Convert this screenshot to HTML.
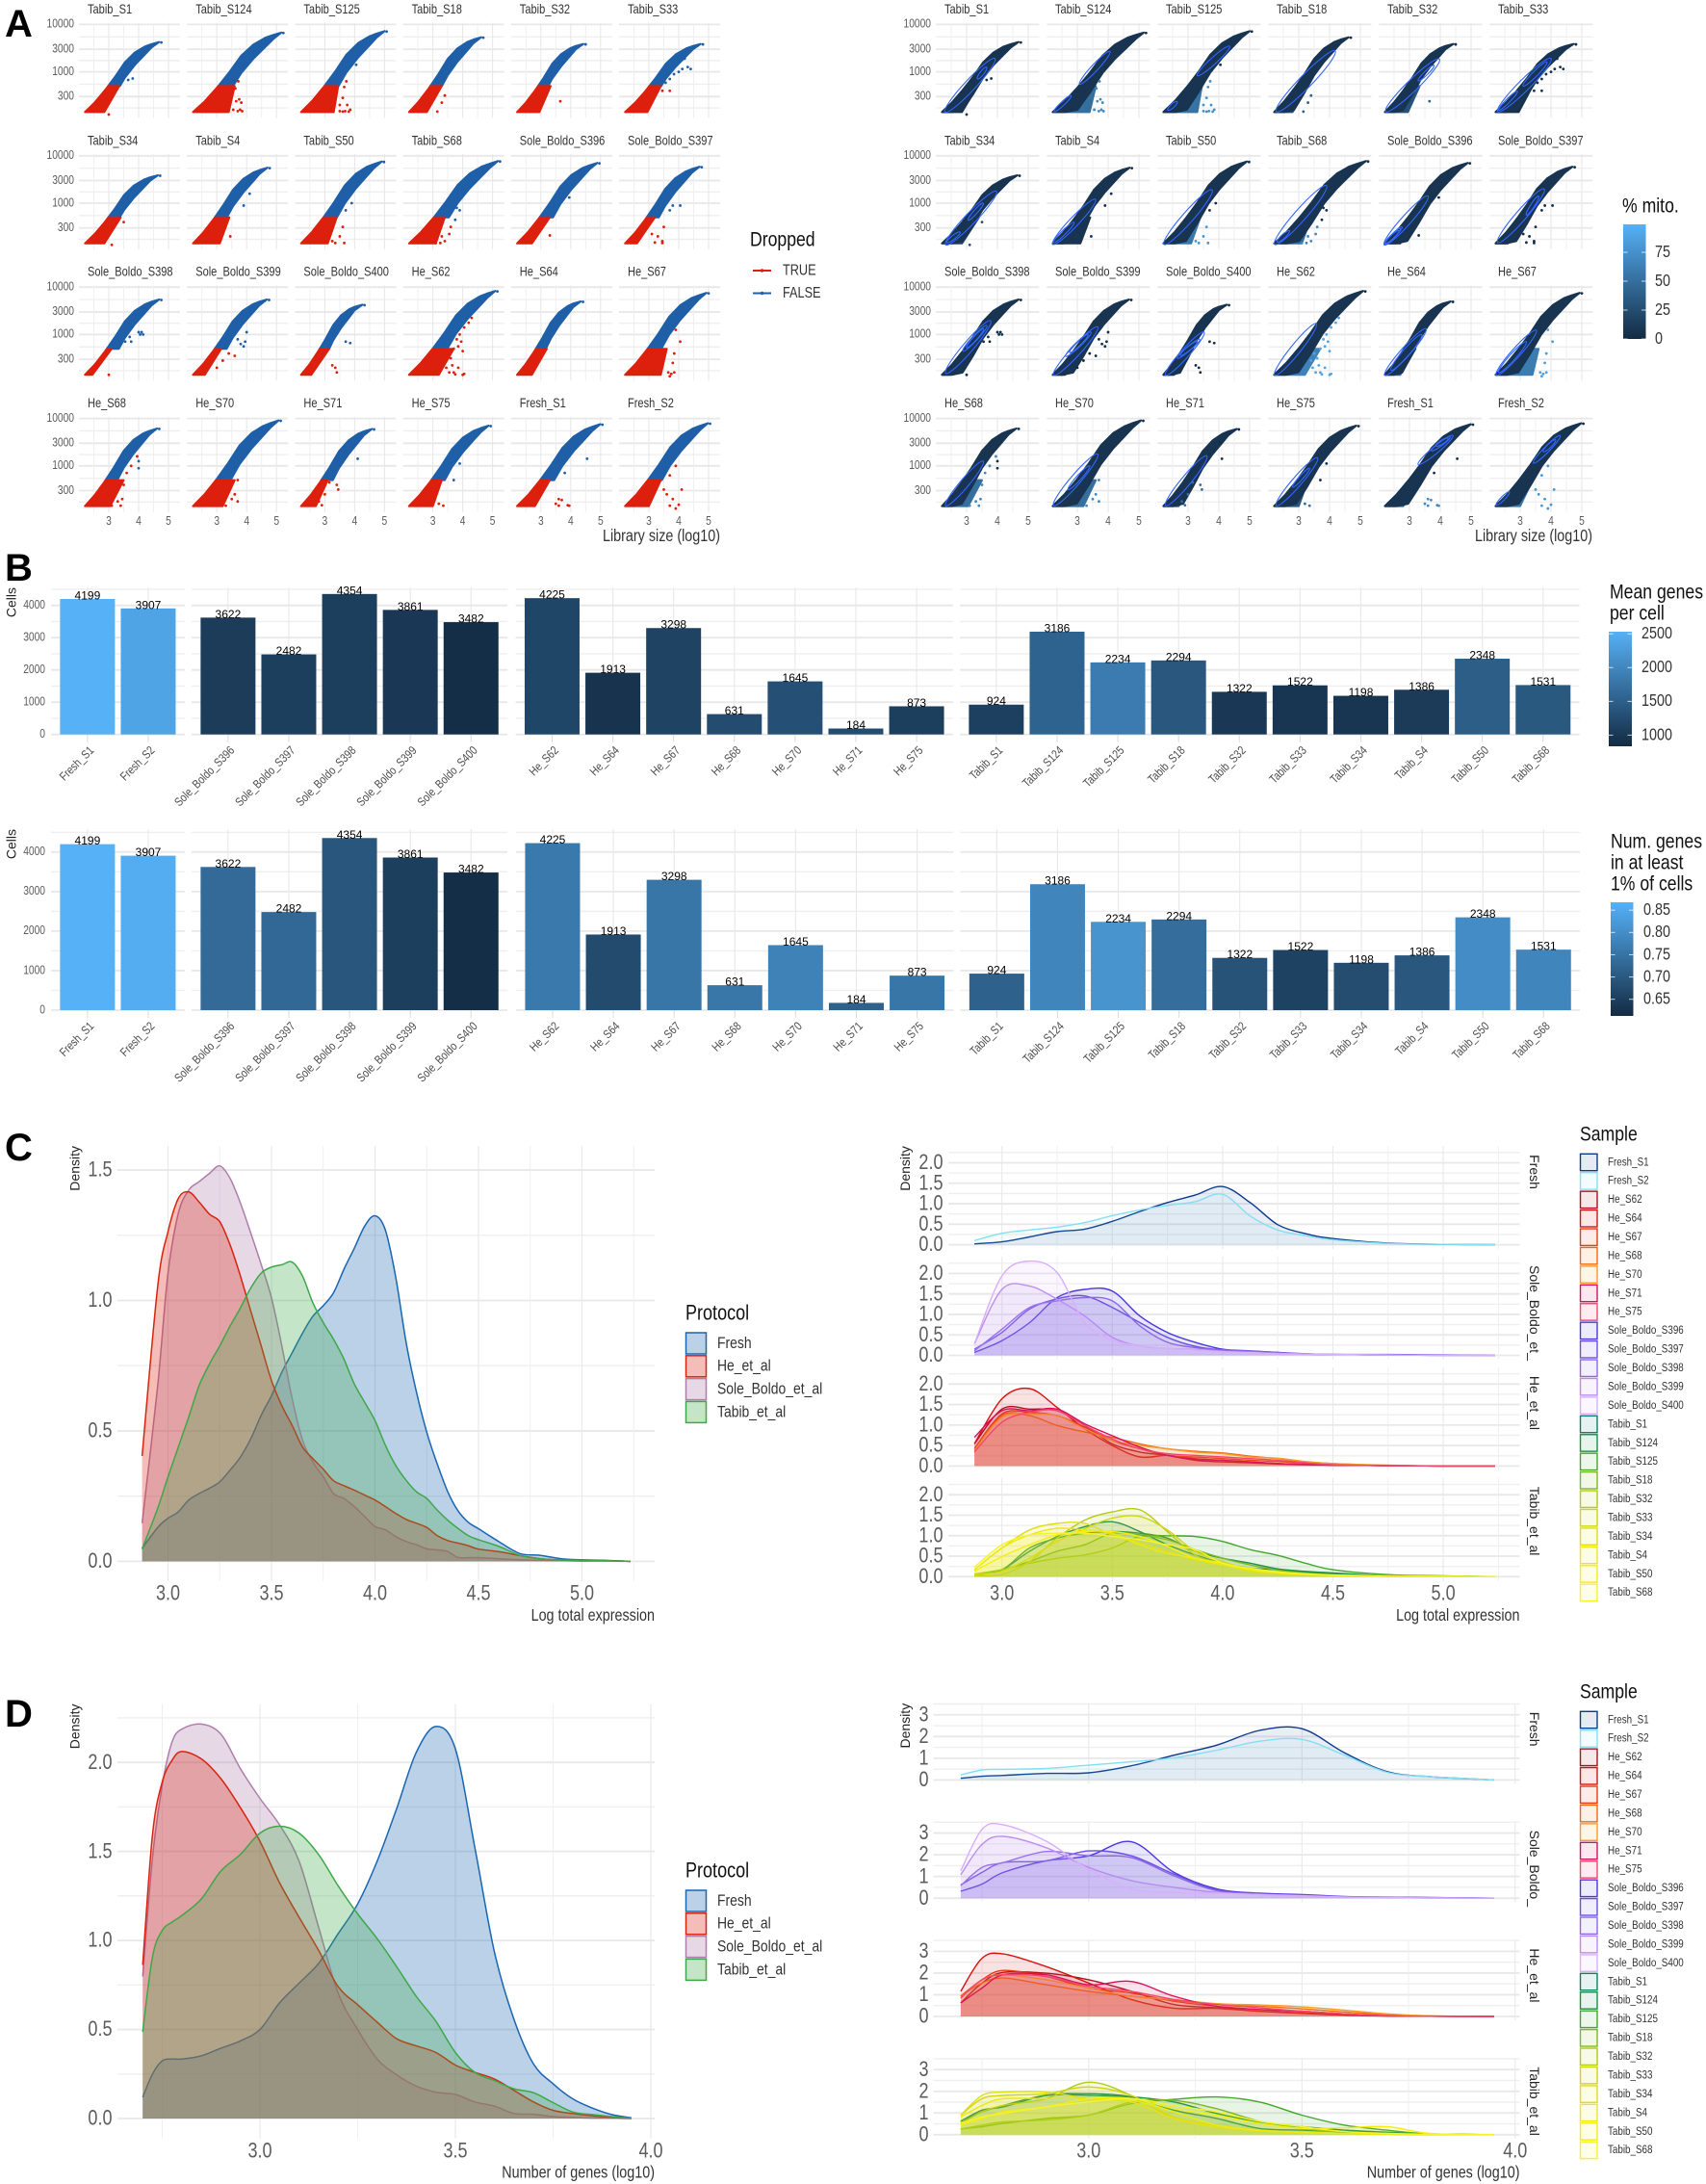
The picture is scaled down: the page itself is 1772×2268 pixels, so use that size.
<!DOCTYPE html>
<html lang="en">
<head>
<meta charset="utf-8">
<title>Single-cell QC figure</title>
<style>
html,body{margin:0;padding:0;background:#fff;}
svg{display:block;}
text{font-family:"Liberation Sans",sans-serif;}
.wide{font-family:"Liberation Sans",sans-serif;}
</style>
</head>
<body>
<svg id="figure" xmlns="http://www.w3.org/2000/svg" width="1772" height="2268" viewBox="0 0 1772 2268"></svg>
<script>
/* ---------- Panel A data (log10 units) ---------- */
const scatterNames = ["Tabib_S1","Tabib_S124","Tabib_S125","Tabib_S18","Tabib_S32","Tabib_S33","Tabib_S34","Tabib_S4","Tabib_S50","Tabib_S68","Sole_Boldo_S396","Sole_Boldo_S397","Sole_Boldo_S398","Sole_Boldo_S399","Sole_Boldo_S400","He_S62","He_S64","He_S67","He_S68","He_S70","He_S71","He_S75","Fresh_S1","Fresh_S2"];
const libraryTop = [4.76,5.23,5.07,4.69,4.5,4.81,4.72,4.77,4.98,5.25,4.96,4.77,4.76,4.75,4.33,5.16,4.41,5.0,4.69,5.14,4.65,4.94,5.06,5.05];
const genesTop = [3.63,3.83,3.86,3.73,3.59,3.59,3.59,3.75,3.88,3.89,3.85,3.77,3.74,3.74,3.63,3.92,3.70,3.88,3.79,3.96,3.78,3.85,3.88,3.90];
const droppedTopLibrary = [3.35,3.6,3.45,3.3,3.33,3.4,3.4,3.42,3.4,3.4,3.3,3.2,3.1,3.15,3.15,3.7,3.2,3.6,3.5,3.6,3.1,3.3,3.3,3.4];
const droppedBottomLibrary = [2.85,3.4,3.3,2.8,2.95,2.95,2.85,3.1,3.1,3.1,2.7,2.6,2.45,2.6,2.55,3.2,2.7,3.4,3.05,3.2,2.7,3.0,2.8,3.0];
const droppedMito = [0.1,0.7,0.75,0.4,0.4,0.05,0.3,0.1,0.8,0.7,0.05,0,0,0,0,0.9,0.6,0.85,0.7,0.7,0.5,0.5,0.7,0.8];
const ridgeSteps = [0,0.15,0.3,0.45,0.6,0.75,0.9,1];
const ridgeUpper = [0,0.14,0.31,0.50,0.71,0.85,0.935,0.97];
const ridgeLower = [0,0,0.03,0.25,0.49,0.67,0.82,0.92];
const droppedOutliers = [
 [[3.0,2.1]],
 [[3.72,2.8],[3.62,2.65],[3.82,2.35],[3.75,2.42],[3.65,2.38],[3.85,2.17],[3.7,2.17],[3.55,2.2],[3.78,2.2]],
 [[3.72,2.8],[3.65,2.68],[3.75,2.3],[3.6,2.45],[3.5,2.3],[3.85,2.2],[3.8,2.16],[3.6,2.16],[3.68,2.17],[3.5,2.17]],
 [[3.4,2.5],[3.3,2.35],[3.15,2.16]],
 [[3.65,2.38]],
 [[3.7,2.6],[3.45,2.6]],
 [[3.5,2.6],[3.1,2.12]],
 [[3.45,2.3]],
 [[3.6,2.5],[3.5,2.3],[3.65,2.16],[3.35,2.16],[3.25,2.2]],
 [[3.6,2.5],[3.55,2.35],[3.4,2.2],[3.3,2.3],[3.25,2.16],[3.1,2.16]],
 [[3.3,2.32]],
 [[3.5,2.5],[3.3,2.3],[3.45,2.2],[3.2,2.17],[3.1,2.35],[3.45,2.16]],
 [[3.0,2.15]],
 [[3.6,2.55],[3.4,2.6],[3.2,2.45],[3.0,2.3]],
 [[3.25,2.35],[3.35,2.3],[3.4,2.2]],
 [[4.3,3.35],[4.2,3.25],[4.05,3.15],[3.9,3.0],[3.8,2.9],[4.0,2.65],[3.7,2.7],[3.6,2.5],[3.85,2.3],[3.7,2.2],[3.75,2.16],[4.0,2.15],[4.05,2.17],[3.45,2.3],[3.55,2.2],[3.4,2.45],[3.65,2.35],[3.5,2.6],[3.85,2.75],[3.95,2.85]],
 [],
 [[3.9,3.1],[4.05,2.85],[3.85,2.6],[3.8,2.4],[3.85,2.2],[3.75,2.17],[3.65,2.2],[3.7,2.12]],
 [[3.95,3.2],[3.75,3.0],[3.6,2.85],[3.5,2.6],[3.45,2.3],[3.3,2.25],[3.1,2.16],[3.4,2.16]],
 [[3.7,2.7],[3.6,2.4],[3.7,2.25],[3.5,2.3],[3.3,2.16]],
 [[3.15,2.65],[3.4,2.6],[3.45,2.5],[3.0,2.4],[2.9,2.17],[2.8,2.25]],
 [[3.2,2.2],[3.35,2.16]],
 [[3.7,2.28],[3.5,2.2],[3.6,2.16],[3.95,2.16],[3.9,2.17],[3.6,2.3]],
 [[4.1,2.5],[4.0,2.18],[3.9,2.1],[3.8,2.3],[3.6,2.4],[3.7,2.16],[3.5,2.5],[3.9,3.0],[3.7,2.8]]
];
const keptOutliers = [
 [[3.8,2.86],[3.65,2.83]],
 [[3.9,3.1]],
 [[4.05,3.15]],
 [],
 [],
 [[4.12,3.06],[4.4,3.06],[3.84,2.95],[3.56,2.77],[4.2,3.28],[4.3,3.1],[4.0,3.0],[3.7,2.85]],
 [],
 [[4.1,3.2],[3.9,2.95]],
 [[3.9,3.0],[3.7,2.85]],
 [[3.9,2.85],[3.75,2.65],[3.8,2.9]],
 [[3.95,3.12]],
 [[4.05,2.95],[3.8,2.95],[3.7,2.85]],
 [[4.0,3.05],[4.1,3.05],[4.05,3.0],[4.15,3.0],[3.7,2.95],[3.75,2.85],[3.55,2.85]],
 [[3.95,2.85],[3.9,2.75],[3.7,2.9],[4.0,3.05],[3.8,2.8]],
 [[3.7,2.85],[3.85,2.82]],
 [],
 [],
 [],
 [[4.0,2.95],[4.0,3.1]],
 [],
 [[4.1,3.15],[3.85,3.3],[4.05,3.5],[3.7,3.25]],
 [[3.7,2.7],[3.9,3.05]],
 [[4.55,3.15],[3.8,2.85]],
 []
];
/* density contours: [library start, genes start, library end, genes end] */
const contourEnds = [
 [[2.3,2.15,3.92,3.28],[3.35,2.85,3.65,3.1]],
 [[3.07,2.74,4.06,3.43],[2.25,2.16,2.8,2.5]],
 [[3.3,2.92,4.35,3.54],[2.34,2.19,2.65,2.37]],
 [[2.27,2.16,4.18,3.44]],
 [[2.23,2.16,3.97,3.27],[3.28,2.81,3.8,3.14]],
 [[2.27,2.16,4.0,3.28],[2.3,2.19,2.91,2.59],[3.09,2.7,3.87,3.21]],
 [[2.32,2.12,3.97,3.25],[3.05,2.64,3.54,3.0],[2.36,2.17,2.79,2.39]],
 [[2.2,2.13,3.59,3.08],[2.23,2.17,2.9,2.6]],
 [[2.22,2.13,3.78,3.28]],
 [[2.22,2.13,3.9,3.37],[2.3,2.18,2.7,2.42]],
 [[2.18,2.12,3.6,3.15],[2.18,2.12,2.76,2.5],[2.2,2.14,2.7,2.46],[2.22,2.16,2.66,2.42]],
 [[2.27,2.17,3.78,3.3],[3.2,2.75,3.6,3.15]],
 [[2.32,2.18,3.78,3.29],[2.88,2.65,3.66,3.19],[3.0,2.72,3.55,3.12]],
 [[2.23,2.14,3.66,3.16],[2.62,2.54,3.45,3.05],[2.75,2.62,3.35,3.0]],
 [[2.27,2.14,3.52,3.05],[2.65,2.5,3.38,2.9],[2.75,2.56,3.3,2.85]],
 [[2.22,2.14,3.57,3.23]],
 [[2.2,2.14,3.54,3.12],[2.4,2.25,3.4,3.0]],
 [[2.22,2.14,3.52,3.09],[2.3,2.2,3.2,2.85]],
 [[2.32,2.16,3.54,3.1]],
 [[2.23,2.16,3.66,3.25],[2.7,2.5,3.4,3.0]],
 [[2.27,2.16,3.61,3.21]],
 [[2.27,2.16,3.61,3.17],[2.8,2.55,3.35,2.95]],
 [[3.28,3.03,4.41,3.64],[3.71,3.32,4.32,3.61],[3.85,3.42,4.25,3.58]],
 [[3.43,3.06,4.3,3.64],[2.22,2.17,2.65,2.45],[3.75,3.3,4.15,3.55]]
];

/* ---------- Panel B data ---------- */
const barFacets = ["Fresh","Sole_Boldo","He","Tabib"];
const barSamples = [["Fresh_S1","Fresh_S2"],["Sole_Boldo_S396","Sole_Boldo_S397","Sole_Boldo_S398","Sole_Boldo_S399","Sole_Boldo_S400"],["He_S62","He_S64","He_S67","He_S68","He_S70","He_S71","He_S75"],["Tabib_S1","Tabib_S124","Tabib_S125","Tabib_S18","Tabib_S32","Tabib_S33","Tabib_S34","Tabib_S4","Tabib_S50","Tabib_S68"]];
const barCells = [[4199,3907],[3622,2482,4354,3861,3482],[4225,1913,3298,631,1645,184,873],[924,3186,2234,2294,1322,1522,1198,1386,2348,1531]];
const barMeanGenes = [[2524,2355],[1055,1088,1088,1004,870],[1173,936,1139,1257,1291,1257,1088],[1105,1544,1848,1392,1004,970,970,1038,1477,1409]];
const barNumGenes = [[0.867,0.859],[0.732,0.729,0.694,0.650,0.617],[0.760,0.673,0.755,0.757,0.778,0.714,0.755],[0.714,0.785,0.811,0.740,0.689,0.655,0.676,0.696,0.796,0.783]];
const cellTicks = [0,1000,2000,3000,4000];
const cellMinorTicks = [500,1500,2500,3500,4500];
const meanGeneTicks = [1000,1500,2000,2500];
const numGeneTicks = [0.65,0.70,0.75,0.80,0.85];
const mitoTicks = [0,25,50,75];

/* ---------- Panel C / D protocol densities ---------- */
const protocols = ["Fresh","He_et_al","Sole_Boldo_et_al","Tabib_et_al"];
const protocolColors = ["#1966b2","#da230f","#af7dac","#3ea848"];
const protocolFills = ["#1966b2","#da230f","#af7dac","#3ea848"];
const protocolDrawOrder = [0,2,1,3];
const exprGrid = [2.875,2.95,3.0,3.05,3.1,3.15,3.2,3.25,3.3,3.35,3.4,3.45,3.5,3.55,3.6,3.65,3.7,3.75,3.8,3.85,3.9,3.95,4.0,4.05,4.1,4.15,4.2,4.25,4.3,4.35,4.4,4.45,4.5,4.6,4.7,4.8,4.9,5.0,5.1,5.235];
const exprFresh = [.05,.13,.165,.19,.235,.26,.28,.305,.35,.40,.47,.56,.635,.725,.80,.875,.94,.98,1.03,1.12,1.20,1.285,1.325,1.27,1.09,.84,.65,.495,.375,.27,.195,.15,.125,.075,.03,.023,.01,.006,.004,0];
const exprHe = [.404,1.054,1.264,1.391,1.416,1.378,1.331,1.302,1.213,1.093,.959,.826,.693,.597,.521,.438,.394,.353,.309,.290,.273,.254,.235,.210,.184,.161,.146,.130,.099,.080,.070,.060,.047,.037,.022,.010,.005,.003,.003,0];
const exprSole = [.146,.673,1.105,1.334,1.423,1.455,1.487,1.516,1.468,1.373,1.258,1.138,1.010,.826,.623,.464,.381,.324,.260,.241,.210,.172,.134,.121,.095,.076,.064,.048,.044,.038,.015,.014,.014,.010,.006,.004,.003,.001,.001,0];
const exprTabib = [.047,.203,.324,.438,.553,.673,.756,.826,.902,.972,1.048,1.105,1.128,1.137,1.147,1.093,.991,.915,.851,.775,.680,.610,.540,.445,.368,.311,.267,.241,.197,.159,.127,.099,.083,.057,.023,.010,.005,.004,.003,0];
const geneGrid = [2.7,2.725,2.75,2.775,2.8,2.85,2.9,2.95,3.0,3.05,3.1,3.15,3.2,3.25,3.3,3.35,3.4,3.45,3.5,3.55,3.6,3.65,3.7,3.75,3.8,3.85,3.9,3.95];
const geneFresh = [.120,.250,.324,.334,.334,.352,.395,.436,.500,.649,.760,.871,1.038,1.205,1.446,1.742,2.057,2.202,2.076,1.520,.934,.556,.306,.195,.111,.059,.022,.004];
const geneHe = [.862,1.594,1.890,2.011,2.061,2.020,1.909,1.746,1.557,1.325,1.131,.945,.741,.639,.541,.448,.408,.371,.300,.259,.222,.158,.093,.046,.028,.015,.007,0];
const geneSole = [.797,1.464,1.872,2.113,2.187,2.215,2.159,1.965,1.798,1.650,1.446,1.075,.704,.500,.334,.245,.182,.148,.135,.093,.070,.028,.024,.011,.006,.002,.002,0];
const geneTabib = [.486,.908,1.056,1.103,1.140,1.233,1.390,1.483,1.603,1.642,1.603,1.483,1.307,1.149,1.010,.852,.686,.547,.371,.259,.213,.167,.145,.089,.037,.022,.011,0];

/* ---------- Panel C / D sample densities ---------- */
const sampleNames = ["Fresh_S1","Fresh_S2","He_S62","He_S64","He_S67","He_S68","He_S70","He_S71","He_S75","Sole_Boldo_S396","Sole_Boldo_S397","Sole_Boldo_S398","Sole_Boldo_S399","Sole_Boldo_S400","Tabib_S1","Tabib_S124","Tabib_S125","Tabib_S18","Tabib_S32","Tabib_S33","Tabib_S34","Tabib_S4","Tabib_S50","Tabib_S68"];
const sampleColors = ["#0b3a8c","#85dff2","#a9121e","#d4140f","#e83a10","#f0670f","#f79a2a","#d80f5c","#f2466e","#4a36dc","#6a4fe2","#8e67e8","#b98bf0","#d9aefa","#0b7f5e","#18904a","#43a52c","#7cb81e","#b3cb10","#cdd610","#dfdf10","#ebe810","#f3ee0e","#f6f32a"];
const facetSampleRange = [[0,2],[9,14],[2,9],[14,24]];
const exprFacetLabels = ["Fresh","Sole_Boldo_et_","He_et_al","Tabib_et_al"];
const geneFacetLabels = ["Fresh","Sole_Boldo_","He_et_al","Tabib_et_al"];
const exprSampleGrid = [2.875,3,3.125,3.25,3.375,3.5,3.625,3.75,3.875,4,4.125,4.25,4.375,4.5,4.75,5,5.235];
const exprSampleValues = [
 [.02,.07,.19,.32,.38,.57,.81,1.03,1.21,1.42,1.03,.49,.27,.15,.04,.01,0],
 [.10,.28,.36,.43,.54,.71,.85,.96,1.05,1.23,.70,.36,.22,.12,.03,.01,0],
 [.54,1.39,1.39,1.35,.99,.54,.34,.26,.14,.10,.08,.05,.04,.02,.01,0,0],
 [.54,1.64,1.89,1.43,.91,.50,.22,.26,.18,.14,.10,.06,.04,.02,.01,0,0],
 [.42,1.27,1.31,1.23,.95,.62,.42,.26,.22,.18,.14,.11,.07,.04,.01,0,0],
 [.38,1.23,1.23,.99,.83,.70,.54,.42,.36,.32,.24,.18,.10,.06,.01,0,0],
 [.38,1.19,1.27,1.23,.91,.62,.50,.42,.34,.30,.22,.19,.11,.06,.02,0,0],
 [.70,1.35,1.35,1.39,1.03,.74,.46,.26,.16,.14,.10,.06,.03,.02,.01,0,0],
 [.34,1.07,1.31,1.35,.99,.66,.42,.30,.26,.22,.18,.14,.08,.03,.01,0,0],
 [.07,.36,.80,1.41,1.61,1.57,.96,.56,.32,.15,.11,.07,.03,.02,.02,.01,0],
 [.15,.56,1.13,1.38,1.45,1.17,.80,.44,.22,.13,.10,.07,.04,.02,.01,.01,0],
 [.11,.64,1.17,1.33,1.41,1.33,.72,.32,.19,.13,.10,.06,.04,.02,.01,0,0],
 [.28,1.61,1.69,1.37,.96,.44,.23,.17,.14,.10,.07,.05,.03,.02,.01,0,0],
 [.28,1.94,2.30,2.02,.80,.38,.23,.17,.13,.09,.07,.04,.03,.02,.01,0,0],
 [.02,.17,.62,.98,1.22,1.34,1.10,.78,.53,.33,.21,.17,.11,.06,.02,.01,0],
 [.06,.17,.70,.94,1.06,1.10,1.06,.94,.62,.45,.33,.19,.13,.09,.02,.01,0],
 [.05,.17,.37,.62,.78,1.06,1.02,1.00,.98,.86,.66,.52,.33,.17,.05,.02,0],
 [.06,.17,.33,.45,.53,.70,.98,.90,.66,.45,.29,.16,.09,.05,.01,0,0],
 [.02,.05,.37,.94,1.38,1.58,1.63,1.10,.53,.33,.15,.09,.05,.03,.01,0,0],
 [.05,.13,.45,.86,1.17,1.43,1.47,1.14,.62,.37,.17,.09,.05,.03,.01,0,0],
 [.17,.70,1.14,1.30,1.30,1.02,.82,.62,.41,.29,.13,.08,.05,.03,.01,0,0],
 [.17,.70,1.02,1.18,1.14,1.06,.78,.57,.45,.29,.17,.09,.05,.03,.01,0,0],
 [.13,.49,.78,1.02,1.10,1.10,.98,.74,.45,.33,.17,.10,.06,.03,.01,.01,0],
 [.23,.78,1.02,1.06,1.06,.98,.90,.78,.66,.33,.21,.12,.07,.04,.02,.01,0]
];
const geneSampleGrid = [2.7,2.75,2.8,2.9,3.0,3.1,3.2,3.3,3.4,3.5,3.6,3.7,3.8,3.95];
const geneSampleValues = [
 [.08,.17,.21,.30,.33,.65,1.14,1.60,2.28,2.36,1.25,.38,.15,0],
 [.23,.46,.49,.53,.68,.84,1.02,1.37,1.78,1.87,1.14,.35,.15,0],
 [.62,1.54,2.03,1.99,1.69,1.16,.55,.40,.24,.14,.06,.02,.01,0],
 [1.16,2.68,2.88,2.30,1.54,.78,.38,.37,.24,.17,.08,.02,.01,0],
 [.93,1.69,2.12,1.84,1.31,1.08,.70,.47,.32,.24,.12,.03,.01,0],
 [.93,1.54,1.77,1.46,1.16,.93,.75,.55,.47,.35,.21,.08,.02,0],
 [.85,1.69,1.92,1.69,1.31,.93,.78,.59,.53,.44,.29,.12,.03,0],
 [.62,1.31,1.92,1.92,1.46,1.61,.93,.47,.32,.24,.12,.03,.01,0],
 [.85,1.69,1.92,1.84,1.39,1.16,.78,.55,.40,.24,.12,.03,.01,0],
 [.32,.65,1.19,1.72,1.95,2.60,1.19,.43,.23,.17,.08,.05,.03,0],
 [.61,1.19,1.64,1.72,2.18,1.95,1.11,.38,.20,.15,.06,.05,.02,0],
 [.58,1.42,1.64,2.15,1.95,1.87,1.03,.35,.20,.12,.06,.04,.02,0],
 [1.08,2.48,2.85,2.33,1.42,.81,.50,.27,.17,.11,.05,.03,.01,0],
 [1.26,3.17,3.38,2.63,1.34,.43,.27,.23,.17,.11,.05,.03,.01,0],
 [.62,1.13,1.28,1.81,1.89,1.74,1.13,.75,.29,.21,.14,.11,.03,0],
 [.62,1.05,1.35,1.81,1.81,1.74,1.51,.98,.59,.37,.21,.11,.03,0],
 [.26,.37,.52,.75,.90,1.43,1.63,1.74,1.51,.90,.44,.21,.03,0],
 [.26,.44,.59,.68,.90,1.51,1.58,1.20,.62,.29,.11,.04,.01,0],
 [.52,1.05,1.35,1.66,2.42,1.81,.78,.44,.21,.11,.05,.02,.01,0],
 [.90,1.66,1.81,1.89,2.20,1.81,.82,.44,.21,.11,.05,.02,.01,0],
 [.90,1.81,1.96,1.96,1.66,1.51,.75,.37,.18,.09,.05,.02,.01,0],
 [.82,1.35,1.66,1.66,1.66,1.58,1.05,.44,.21,.11,.05,.02,.01,0],
 [.44,.75,1.05,1.28,1.66,1.66,1.20,.90,.52,.29,.32,.37,.06,0],
 [.52,.82,.98,1.28,1.51,1.66,1.35,1.05,.62,.37,.14,.06,.02,0]
];

/* ---------- helpers ---------- */
const NS = "http://www.w3.org/2000/svg";
const NARROW = 0.82;
const root = document.getElementById("figure");
function mk(tag, attrs, parent) {
  const el = document.createElementNS(NS, tag);
  for (const k in attrs) el.setAttribute(k, attrs[k]);
  (parent || root).appendChild(el);
  return el;
}
/* condensed text: Liberation Sans squeezed horizontally about its anchor */
function txt(parent, str, x, y, size, fill, anchor, extra) {
  const isWide = extra && extra.class === "wide";
  const rot = extra && extra.rotate ? " rotate(" + extra.rotate + ")" : "";
  const attrs = {x: 0, y: 0, "font-size": size, fill: fill || "#4d4d4d", "text-anchor": anchor || "start", "dominant-baseline": "central",
    transform: "translate(" + x.toFixed(1) + " " + y.toFixed(1) + ")" + rot + (isWide ? "" : " scale(" + NARROW + " 1)")};
  const el = mk("text", attrs, parent);
  el.textContent = str;
  return el;
}
function hex(c) { return [1,3,5].map(i => parseInt(c.substr(i,2),16)); }
function blueScale(t) {
  t = Math.max(0, Math.min(1, t));
  const a = hex("#132B43"), b = hex("#56B1F7");
  return "rgb(" + a.map((v,i) => Math.round(v + (b[i]-v)*t)).join(",") + ")";
}
function smooth(pts) {
  let d = "M" + pts[0][0].toFixed(1) + " " + pts[0][1].toFixed(1);
  for (let i = 0; i < pts.length - 1; i++) {
    const p0 = pts[Math.max(0,i-1)], p1 = pts[i], p2 = pts[i+1], p3 = pts[Math.min(pts.length-1,i+2)];
    const c1x = p1[0] + (p2[0]-p0[0])/6, c1y = p1[1] + (p2[1]-p0[1])/6;
    const c2x = p2[0] - (p3[0]-p1[0])/6, c2y = p2[1] - (p3[1]-p1[1])/6;
    d += "C" + c1x.toFixed(1) + " " + c1y.toFixed(1) + " " + c2x.toFixed(1) + " " + c2y.toFixed(1) + " " + p2[0].toFixed(1) + " " + p2[1].toFixed(1);
  }
  return d;
}
function grid(parent, box, xMajor, xMinor, yMajor, yMinor, sx, sy, heavy) {
  const g = mk("g", {}, parent);
  
  
  yMinor.forEach(v => {
    const el = mk("line", {x1: box.l, x2: box.r, y1: sy(v), y2: sy(v), stroke: "#efefef", "stroke-width": heavy ? 1.4 : 1}, g);
    
    
  });
  yMajor.forEach(v => {
    const el = mk("line", {x1: box.l, x2: box.r, y1: sy(v), y2: sy(v), stroke: "#e8e8e8", "stroke-width": heavy ? 1.8 : 1.5}, g);
    
    
  });
  xMinor.forEach(v => {
    const el = mk("line", {x1: sx(v), x2: sx(v), y1: box.t, y2: box.b, stroke: "#efefef", "stroke-width": 1}, g);
    
    
  });
  xMajor.forEach(v => {
    const el = mk("line", {x1: sx(v), x2: sx(v), y1: box.t, y2: box.b, stroke: "#e8e8e8", "stroke-width": 1.1}, g);
    
    
  });
}
function panelLetter(letter, x, y) {
  const el = mk("text", {x: x, y: y, "font-size": 40, "font-weight": "bold", fill: "#000", class: "wide"});
  el.textContent = letter;
  
  
}

/* ---------- Panel A ---------- */
const genesBreaks = [10000,3000,1000,300];
const genesMinor = [5477,1732,548,173];
const libraryMajor = [3,4,5];
const libraryMinor = [2.5,3.5,4.5];
const START_X = 2.2, START_Y = 2.15, THRESH = 2.7, TAIL = 0.33;
function ridge(i, profile) {
  const endX = libraryTop[i] - TAIL;
  return ridgeSteps.map((s, k) => [START_X + (endX-START_X)*s, START_Y + (genesTop[i]-START_Y)*profile[k]]);
}
function crossing(edge, yv) {
  for (let k = 0; k < edge.length-1; k++) {
    if (edge[k][1] <= yv && edge[k+1][1] >= yv) {
      const f = (yv-edge[k][1])/(edge[k+1][1]-edge[k][1]);
      return [edge[k][0]+f*(edge[k+1][0]-edge[k][0]), yv];
    }
  }
  return edge[0];
}
function scatterGroup(opts) {
  const wrap = mk("g", {});
  
  
  scatterNames.forEach((name, i) => {
    const col = i % 6, row = Math.floor(i / 6);
    const sx = v => opts.tick3 + opts.stepX*col + (v-3)*opts.unit;
    const sy = v => 25.4 + 136.4*row + (4-v)*49.2;
    const syBreak = v => sy(Math.log10(v));
    const box = {l: opts.left + opts.stepX*col, r: opts.left + opts.stepX*col + opts.width, t: 23.6 + 136.4*row, b: 122.5 + 136.4*row};
    const g = mk("g", {}, wrap);
    
    
    grid(g, box, libraryMajor, libraryMinor, genesBreaks, genesMinor, sx, syBreak, true);
    const title = txt(g, name, opts.title + opts.stepX*col, 9.5 + 136.4*row, 13.5, "#333");
    
    
    if (col === 0) {
      genesBreaks.forEach(v => {
        const t = txt(g, String(v), opts.yLabel, syBreak(v), 12.5, "#5c5c5c", "end");
        
        
      });
    }
    if (row === 3) {
      libraryMajor.forEach(v => {
        const t = txt(g, String(v), sx(v), 541.5, 12.5, "#5c5c5c", "middle");
        
        
      });
    }
    const up = ridge(i, ridgeUpper), low = ridge(i, ridgeLower);
    const cu = crossing(up, THRESH), cl = crossing(low, THRESH);
    const toPts = a => a.map(p => sx(p[0]).toFixed(1) + "," + sy(p[1]).toFixed(1)).join(" ");
    const lobe = [[START_X, START_Y]].concat(up.filter(p => p[1] < THRESH), [cu, [droppedTopLibrary[i], THRESH], [droppedBottomLibrary[i], START_Y]]);
    const tip = [libraryTop[i]-0.07, genesTop[i]];
    const endPoint = [[libraryTop[i], genesTop[i]-0.01]];
    if (opts.mode === "drop") {
      const upper = [cu].concat(up.filter(p => p[1] > THRESH), [tip]);
      const lower = [cl].concat(low.filter(p => p[1] > THRESH)).reverse();
      const blue = mk("polygon", {points: toPts(upper.concat(lower)), fill: "#1f5fa8", stroke: "#1f5fa8", "stroke-width": 2, "stroke-linejoin": "round"}, g);
      
      
      const red = mk("polygon", {points: toPts(lobe), fill: "#dd1f0d", stroke: "#dd1f0d", "stroke-width": 2, "stroke-linejoin": "round"}, g);
      
      
      keptOutliers[i].concat(endPoint).forEach(p => {
        const c = mk("circle", {cx: sx(p[0]), cy: sy(p[1]), r: 1.4, fill: "#1f5fa8"}, g);
        
        
      });
      droppedOutliers[i].forEach(p => {
        const c = mk("circle", {cx: sx(p[0]), cy: sy(p[1]), r: 1.4, fill: "#dd1f0d"}, g);
        
        
      });
    } else {
      const lobeEl = mk("polygon", {points: toPts(lobe), fill: blueScale(droppedMito[i]*0.72), stroke: blueScale(droppedMito[i]*0.72), "stroke-width": 2, "stroke-linejoin": "round"}, g);
      
      
      const band = mk("polygon", {points: toPts(up.concat([tip], low.slice().reverse())), fill: blueScale(0.07), stroke: blueScale(0.07), "stroke-width": 2, "stroke-linejoin": "round"}, g);
      
      
      keptOutliers[i].concat(endPoint).forEach(p => {
        const c = mk("circle", {cx: sx(p[0]), cy: sy(p[1]), r: 1.4, fill: blueScale(0.03)}, g);
        
        
      });
      droppedOutliers[i].forEach(p => {
        const c = mk("circle", {cx: sx(p[0]), cy: sy(p[1]), r: 1.4, fill: blueScale(droppedMito[i])}, g);
        
        
      });
      contourEnds[i].forEach(e => {
        const x1 = sx(e[0]), y1 = sy(e[1]), x2 = sx(e[2]), y2 = sy(e[3]);
        const len = Math.hypot(x2-x1, y2-y1), ang = Math.atan2(y2-y1, x2-x1)*180/Math.PI;
        const cx = (x1+x2)/2, cy = (y1+y2)/2;
        const el = mk("ellipse", {cx: cx, cy: cy, rx: len/2, ry: Math.max(2, len*0.075), fill: "none", stroke: "#3366ff", "stroke-width": 1.1, transform: "rotate(" + ang.toFixed(1) + " " + cx.toFixed(1) + " " + cy.toFixed(1) + ")"}, g);
        
        
      });
    }
  });
  const xt = txt(wrap, "Library size (log10)", opts.xTitleRight, 557, 17.5, "#333", "end");
  
  
}
panelLetter("A", 5, 38);
scatterGroup({name: "scatter-dropped", mode: "drop", left: 82, width: 105, stepX: 112.2, tick3: 113, unit: 31, title: 91, yLabel: 77, xTitleRight: 748});
scatterGroup({name: "scatter-mito", mode: "mito", left: 972.3, width: 107, stepX: 115, tick3: 1004, unit: 32, title: 981, yLabel: 967, xTitleRight: 1654});

const dropLegend = mk("g", {});


const dropTitle = txt(dropLegend, "Dropped", 779, 249, 21.5, "#111");


["TRUE","FALSE"].forEach((lab, i) => {
  const y = 281 + i*23.5, col = i === 0 ? "#dd1f0d" : "#1f5fa8";
  const ln = mk("line", {x1: 782, x2: 801, y1: y, y2: y, stroke: col, "stroke-width": 2}, dropLegend);
  
  
  const dot = mk("circle", {cx: 791.5, cy: y, r: 1.7, fill: col}, dropLegend);
  
  
  const t = txt(dropLegend, lab, 813, y, 15.5, "#333");
  
  
});

/* colourbars */
const defs = mk("defs", {});
const grad = mk("linearGradient", {id: "blueRamp", x1: 0, y1: 1, x2: 0, y2: 0}, defs);
mk("stop", {offset: "0", "stop-color": "#132B43"}, grad);
mk("stop", {offset: "1", "stop-color": "#56B1F7"}, grad);
function colorbar(name, titles, titleX, titleYs, x, w, top, bottom, ticks, tickFn, fmt, labelX) {
  const g = mk("g", {});
  
  
  titles.forEach((s, i) => {
    const t = txt(g, s, titleX, titleYs[i], 21.5, "#111");
    
    
  });
  const r = mk("rect", {x: x, y: top, width: w, height: bottom-top, fill: "url(#blueRamp)"}, g);
  
  
  ticks.forEach(v => {
    const y = tickFn(v);
    const a = mk("line", {x1: x, x2: x+4.5, y1: y, y2: y, stroke: "#fff", "stroke-opacity": .75, "stroke-width": 1}, g);
    
    
    const b = mk("line", {x1: x+w-4.5, x2: x+w, y1: y, y2: y, stroke: "#fff", "stroke-opacity": .75, "stroke-width": 1}, g);
    
    
    const t = txt(g, fmt(v), labelX, y, 17.5, "#333");
    
    
  });
}
colorbar("mito-legend", ["% mito."], 1685, [214], 1686, 23.5, 233, 352, mitoTicks, v => 352 - v*1.2, v => String(v), 1719);

/* ---------- Panel B ---------- */
panelLetter("B", 5, 603);
const MEAN_MIN = 835, MEAN_MAX = 2524, NUM_MIN = 0.612, NUM_MAX = 0.867;
function barRow(opts) {
  const wrap = mk("g", {});
  
  
  const sy = v => opts.y0 - v*opts.unit;
  const lefts = [53, 199, 535.6 + opts.shift, 997 + opts.shift];
  barFacets.forEach((facet, f) => {
    const left = lefts[f], n = barCells[f].length, step = 63.1;
    const box = {l: left, r: left + (n + 0.2)*step, t: opts.top, b: opts.y0 + 3};
    const sx = i => left + 0.6*step + i*step;
    const g = mk("g", {}, wrap);
    
    
    const idx = barCells[f].map((_, i) => i);
    grid(g, box, idx, [], cellTicks, cellMinorTicks, sx, sy, true);
    barCells[f].forEach((v, i) => {
      const name = barSamples[f][i];
      const tick = mk("line", {x1: sx(i), x2: sx(i), y1: opts.y0, y2: opts.y0 + 8, stroke: "#dcdcdc", "stroke-width": 1}, g);
      
      
      const r = mk("rect", {x: sx(i) - 28.5, y: sy(v), width: 57, height: opts.y0 - sy(v), fill: blueScale(opts.colorT(opts.values[f][i]))}, g);
      
      
      const lab = txt(g, String(v), sx(i), sy(v) - 3.5, 12, "#000", "middle", {class: "wide"});
      
      
      const xl = txt(g, name, sx(i) + 5, opts.y0 + 15, 12.5, "#4d4d4d", "end", {rotate: -45});
      
      
    });
  });
  cellTicks.forEach(v => {
    const t = txt(wrap, String(v), 47, sy(v), 12.5, "#5c5c5c", "end");
    
    
  });
  const yt = mk("text", {x: 11.5, y: opts.top, "font-size": 14, fill: "#222", class: "wide", "text-anchor": "end", "dominant-baseline": "central", transform: "rotate(-90 11.5 " + opts.top + ")"}, wrap);
  yt.textContent = "Cells";
  
  
}
barRow({name: "bars-mean-genes", y0: 762.7, unit: 0.0335, top: 610, shift: 0, values: barMeanGenes, colorT: v => (v-MEAN_MIN)/(MEAN_MAX-MEAN_MIN)});
barRow({name: "bars-num-genes", y0: 1049, unit: 0.04105, top: 861, shift: 0.5, values: barNumGenes, colorT: v => (v-NUM_MIN)/(NUM_MAX-NUM_MIN)});
colorbar("mean-genes-legend", ["Mean genes","per cell"], 1672, [615,637], 1671, 24, 656, 775, meanGeneTicks, v => 763.4 - (v-1000)*0.07013, v => String(v), 1705);
colorbar("num-genes-legend", ["Num. genes","in at least","1% of cells"], 1673, [874,896,918], 1673, 23.5, 937, 1055, numGeneTicks, v => 1037.7 - (v-0.65)*462.6, v => v.toFixed(2), 1707);

/* ---------- Panels C, D left: protocol densities ---------- */
function protocolDensity(opts) {
  const wrap = mk("g", {});
  
  
  grid(wrap, opts.box, opts.xMajor, opts.xMinor, opts.yMajor, opts.yMinor, opts.sx, opts.sy, true);
  protocolDrawOrder.forEach(s => {
    const vals = opts.series[s];
    const pts = opts.xs.map((x, i) => [opts.sx(x), opts.sy(vals[i])]);
    const line = smooth(pts);
    const base = opts.sy(0);
    const area = mk("path", {d: line + "L" + pts[pts.length-1][0].toFixed(1) + " " + base + "L" + pts[0][0].toFixed(1) + " " + base + "Z", fill: protocolFills[s], "fill-opacity": 0.3}, wrap);
    
    
    const curve = mk("path", {d: line, fill: "none", stroke: protocolColors[s], "stroke-width": 1.5}, wrap);
    
    
  });
  opts.yMajor.forEach(v => {
    const t = txt(wrap, v.toFixed(1), 116.5, opts.sy(v), 22, "#5c5c5c", "end");
    
    
  });
  opts.xMajor.forEach(v => {
    const t = txt(wrap, v.toFixed(1), opts.sx(v), opts.xLabelY, 22, "#5c5c5c", "middle");
    
    
  });
  const xt = txt(wrap, opts.xTitle, 680, opts.xTitleY, 17.5, "#333", "end");
  
  
  const yt = mk("text", {x: 77.5, y: opts.box.t, "font-size": 14, fill: "#222", class: "wide", "text-anchor": "end", "dominant-baseline": "central", transform: "rotate(-90 77.5 " + opts.box.t + ")"}, wrap);
  yt.textContent = "Density";
  
  
  const lg = mk("g", {}, wrap);
  
  
  const lt = txt(lg, "Protocol", 712, opts.legendY, 22, "#111");
  
  
  protocols.forEach((p, i) => {
    const y = opts.legendY + 31 + i*23.8;
    const r = mk("rect", {x: 712.5, y: y - 11, width: 21, height: 22, fill: protocolFills[i], "fill-opacity": 0.3, stroke: protocolColors[i], "stroke-width": 1.5}, lg);
    
    
    const t = txt(lg, p, 745, y, 17, "#333");
    
    
  });
}
panelLetter("C", 5, 1205);
protocolDensity({name: "expression-density-by-protocol", box: {l: 122, r: 680, t: 1190, b: 1642},
  sx: v => 174.5 + (v-3)*215, sy: v => 1621.4 - v*270.9,
  xMajor: [3,3.5,4,4.5,5], xMinor: [3.25,3.75,4.25,4.75,5.25], yMajor: [0,0.5,1,1.5], yMinor: [0.25,0.75,1.25],
  xs: exprGrid, series: [exprFresh, exprHe, exprSole, exprTabib],
  xLabelY: 1655, xTitle: "Log total expression", xTitleY: 1678, legendY: 1364});
panelLetter("D", 5, 1793);
protocolDensity({name: "gene-density-by-protocol", box: {l: 122, r: 680, t: 1769.5, b: 2220.6},
  sx: v => 270 + (v-3)*406, sy: v => 2200 - v*184.9,
  xMajor: [3,3.5,4], xMinor: [2.75,3.25,3.75], yMajor: [0,0.5,1,1.5,2], yMinor: [0.25,0.75,1.25,1.75,2.25],
  xs: geneGrid, series: [geneFresh, geneHe, geneSole, geneTabib],
  xLabelY: 2233.7, xTitle: "Number of genes (log10)", xTitleY: 2256.7, legendY: 1943});

/* ---------- Panels C, D right: per-sample densities ---------- */
function sampleDensity(opts) {
  const wrap = mk("g", {});
  
  
  facetSampleRange.forEach((range, f) => {
    const y0 = opts.y0 + f*opts.facetStep;
    const sy = v => y0 - v*opts.unit;
    const box = {l: opts.left, r: 1578.5, t: y0 - opts.facetTop, b: y0 + opts.facetBottom};
    const g = mk("g", {}, wrap);
    
    
    grid(g, box, opts.xMajor, opts.xMinor, opts.yMajor, opts.yMinor, opts.sx, sy, true);
    for (let s = range[0]; s < range[1]; s++) {
      const vals = opts.values[s];
      const pts = opts.xs.map((x, i) => [opts.sx(x), sy(vals[i])]);
      const line = smooth(pts);
      const area = mk("path", {d: line + "L" + pts[pts.length-1][0].toFixed(1) + " " + y0 + "L" + pts[0][0].toFixed(1) + " " + y0 + "Z", fill: sampleColors[s], "fill-opacity": f === 0 ? 0.09 : 0.12}, g);
      
      
      const curve = mk("path", {d: line, fill: "none", stroke: sampleColors[s], "stroke-width": 1.4}, g);
      
      
    }
    opts.yMajor.forEach(v => {
      const t = txt(g, opts.fmt(v), opts.yLabelX, sy(v), 22, "#5c5c5c", "end");
      
      
    });
    const sxStrip = 1594, syStrip = box.t + 9;
    const strip = mk("text", {x: sxStrip, y: syStrip, "font-size": 14, fill: "#222", class: "wide", "dominant-baseline": "central", transform: "rotate(90 " + sxStrip + " " + syStrip.toFixed(1) + ")"}, g);
    strip.textContent = opts.facetLabels[f];
    
    
  });
  opts.xMajor.forEach(v => {
    const t = txt(wrap, v.toFixed(1), opts.sx(v), opts.xLabelY, 22, "#5c5c5c", "middle");
    
    
  });
  const xt = txt(wrap, opts.xTitle, 1578.5, opts.xLabelY + 23, 17.5, "#333", "end");
  
  
  const yTop = opts.y0 - opts.facetTop;
  const yt = mk("text", {x: 940, y: yTop, "font-size": 14, fill: "#222", class: "wide", "text-anchor": "end", "dominant-baseline": "central", transform: "rotate(-90 940 " + yTop.toFixed(1) + ")"}, wrap);
  yt.textContent = "Density";
  
  
  const lg = mk("g", {}, wrap);
  
  
  const lt = txt(lg, "Sample", 1641, opts.legendY, 21.5, "#111");
  
  
  sampleNames.forEach((name, i) => {
    const y = opts.legendY + 29 + i*19.43;
    const r = mk("rect", {x: 1641.5, y: y - 8.7, width: 17.5, height: 17.4, fill: sampleColors[i], "fill-opacity": 0.1, stroke: sampleColors[i], "stroke-width": 1.4}, lg);
    
    
    const t = txt(lg, name, 1670, y, 12, "#333");
    
    
  });
}
sampleDensity({name: "expression-density-by-sample", left: 985, y0: 1292.6, unit: 42.55, facetStep: 114.9, facetTop: 102.5, facetBottom: 4.5,
  sx: v => 1040.7 + (v-3)*229.2,
  xMajor: [3,3.5,4,4.5,5], xMinor: [3.25,3.75,4.25,4.75,5.25], yMajor: [0,0.5,1,1.5,2], yMinor: [0.25,0.75,1.25,1.75,2.25],
  xs: exprSampleGrid, values: exprSampleValues, facetLabels: exprFacetLabels, fmt: v => v.toFixed(1), yLabelX: 979.5,
  xLabelY: 1655, xTitle: "Log total expression", legendY: 1178});
sampleDensity({name: "gene-density-by-sample", left: 969.5, y0: 1848.4, unit: 22.54, facetStep: 122.8, facetTop: 79.6, facetBottom: 4,
  sx: v => 1130.8 + (v-3)*443,
  xMajor: [3,3.5,4], xMinor: [2.75,3.25,3.75], yMajor: [0,1,2,3], yMinor: [0.5,1.5,2.5,3.5],
  xs: geneSampleGrid, values: geneSampleValues, facetLabels: geneFacetLabels, fmt: v => String(v), yLabelX: 964.5,
  xLabelY: 2233.7, xTitle: "Number of genes (log10)", legendY: 1757});
</script>
</body>
</html>
